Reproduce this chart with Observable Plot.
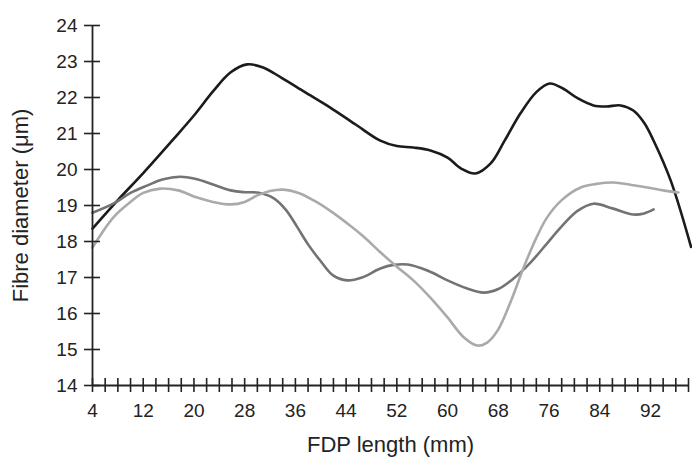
<!DOCTYPE html>
<html>
<head>
<meta charset="utf-8">
<script src="https://cdn.jsdelivr.net/npm/d3@7"></script>
<script src="https://cdn.jsdelivr.net/npm/@observablehq/plot@0.6"></script>
<style>
  body { margin: 0; background: #fff; }
  svg { display: block; }
</style>
</head>
<body>
<div id="chart"></div>
<script>
// Axis definitions
const xDomain = [4, 98];
const yDomain = [14, 24];
const xTicks = d3.range(4, 99, 2);
const xTickLabels = [4, 12, 20, 28, 36, 44, 52, 60, 68, 76, 84, 92];
const yTicks = [14, 15, 16, 17, 18, 19, 20, 21, 22, 23, 24];
const xLabel = "FDP length (mm)";
const yLabel = "Fibre diameter (\u03BCm)";

// Series 1 (black)
const blackX = [4, 8, 12, 16.8, 20, 23.1, 25.8, 28.4, 30.8, 33.7, 37.5, 41.5, 45.5, 49.4, 52, 54.6, 57.3, 60, 62.2, 64.4, 66.8, 69, 71.5, 74, 76.1, 78.2, 80.5, 83, 85, 87.3, 89.3, 91, 92.5, 95.2, 98.4];
const blackY = [18.36, 19.15, 19.9, 20.85, 21.5, 22.19, 22.7, 22.92, 22.84, 22.56, 22.15, 21.72, 21.25, 20.8, 20.65, 20.61, 20.53, 20.33, 20.02, 19.89, 20.17, 20.8, 21.56, 22.15, 22.39, 22.25, 21.98, 21.78, 21.75, 21.78, 21.64, 21.3, 20.8, 19.69, 17.85];

// Series 2 (dark grey)
const darkX = [4, 7.3, 10, 12.7, 15, 17.9, 20, 22.1, 25.8, 28, 30, 32.6, 34.5, 36.3, 38, 40, 42, 44.2, 46.5, 49.4, 51.5, 53.7, 57, 60, 63, 65.7, 68, 70.4, 73, 75.7, 78, 80.5, 83, 86, 89.3, 91, 92.5];
const darkY = [18.8, 19.05, 19.35, 19.56, 19.72, 19.8, 19.75, 19.64, 19.42, 19.37, 19.36, 19.2, 18.88, 18.4, 17.92, 17.45, 17.05, 16.92, 17.0, 17.25, 17.35, 17.36, 17.18, 16.92, 16.7, 16.58, 16.68, 16.97, 17.4, 17.95, 18.42, 18.85, 19.05, 18.92, 18.75, 18.78, 18.89];

// Series 3 (light grey)
const lightX = [4, 7.3, 10, 12, 14.7, 17.5, 20.5, 23, 25.8, 28, 30, 32, 34.1, 36.5, 38.9, 41.5, 44.2, 47, 49.4, 52, 54.6, 57.5, 60, 62.5, 64.7, 66.3, 67.9, 70, 72, 74, 75.7, 78, 81, 83.5, 86.2, 89, 91.5, 94, 96.4];
const lightY = [17.83, 18.67, 19.1, 19.35, 19.47, 19.42, 19.22, 19.1, 19.03, 19.1, 19.28, 19.4, 19.44, 19.35, 19.14, 18.85, 18.5, 18.1, 17.7, 17.3, 16.92, 16.4, 15.89, 15.35, 15.11, 15.2, 15.53, 16.35, 17.28, 18.1, 18.67, 19.15, 19.5, 19.6, 19.64, 19.57, 19.5, 19.42, 19.36];

const seriesNames = ["black", "dark", "light"];
const seriesColors = ["#1b1b1b", "#737373", "#aaaaaa"];

const rows = [
  ...blackX.map((x, i) => ({series: "black", x, y: blackY[i]})),
  ...darkX.map((x, i) => ({series: "dark", x, y: darkY[i]})),
  ...lightX.map((x, i) => ({series: "light", x, y: lightY[i]}))
];

const labelSet = new Set(xTickLabels);
const axisColor = "#232323";

const chart = Plot.plot({
  width: 692,
  height: 457,
  marginLeft: 92,
  marginRight: 4,
  marginTop: 25,
  marginBottom: 72,
  style: {fontFamily: "'Liberation Sans', Arial, Helvetica, sans-serif", color: axisColor, background: "#fff"},
  x: {domain: xDomain},
  y: {domain: yDomain},
  color: {domain: seriesNames, range: seriesColors},
  marks: [
    Plot.line(rows, {x: "x", y: "y", z: "series", stroke: "series", strokeWidth: 2.6, curve: "catmull-rom", clip: false}),
    Plot.ruleX([xDomain[0]], {stroke: axisColor, strokeWidth: 1.8}),
    Plot.ruleY([yDomain[0]], {stroke: axisColor, strokeWidth: 1.8}),
    Plot.axisX(xTicks, {
      tickSize: 14, dy: -7, tickPadding: 11, strokeWidth: 1.6, stroke: axisColor,
      tickFormat: d => labelSet.has(d) ? String(d) : "",
      fontSize: 19, fill: axisColor, label: null
    }),
    Plot.axisY(yTicks, {
      tickSize: 16, dx: 8, tickPadding: 7, strokeWidth: 1.6, stroke: axisColor,
      fontSize: 19, fill: axisColor, label: null
    }),
    Plot.text([xLabel], {frameAnchor: "bottom", dy: 59, lineAnchor: "middle", textAnchor: "middle", fontSize: 22, fill: axisColor}),
    Plot.text([yLabel], {frameAnchor: "left", dx: -80, rotate: -90, lineAnchor: "top", textAnchor: "middle", fontSize: 22, fill: axisColor})
  ]
});

document.getElementById("chart").appendChild(chart);
</script>
</body>
</html>
